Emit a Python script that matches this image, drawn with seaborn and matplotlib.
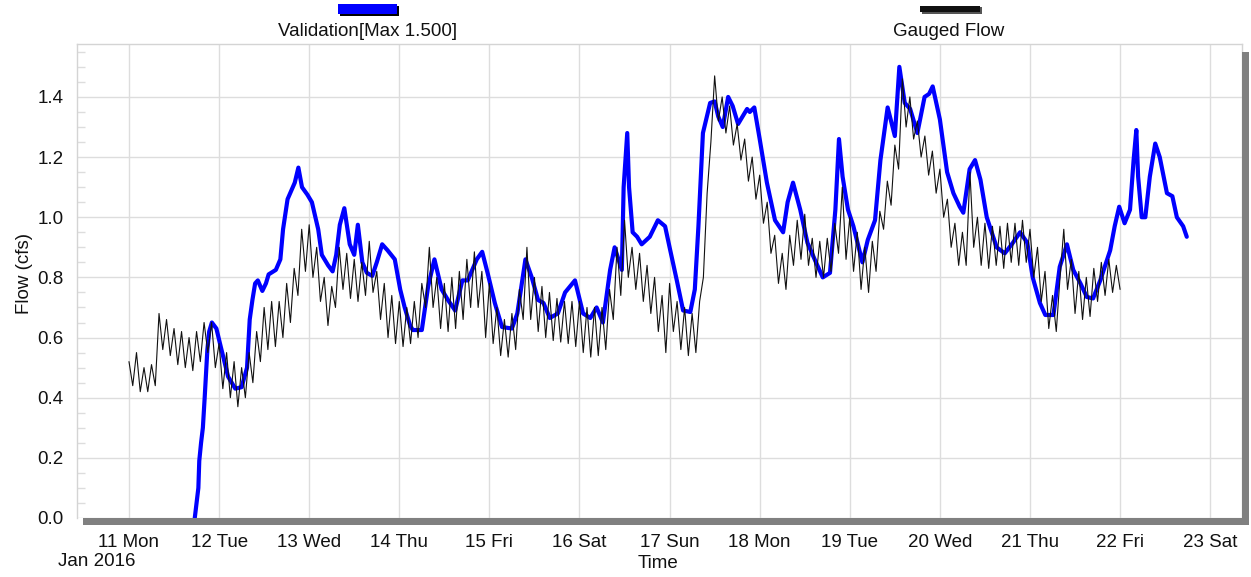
import numpy as np
import pandas as pd
import matplotlib
matplotlib.use("Agg")
import matplotlib.pyplot as plt
import matplotlib.dates as mdates
from matplotlib.patches import Rectangle
from matplotlib.ticker import MultipleLocator, FormatStrFormatter
import seaborn as sns

# Simulated (validation) flow: time as decimal day of January 2016, flow in cfs
valid_day = [
    11.73, 11.77, 11.78, 11.80, 11.82, 11.84, 11.87, 11.89, 11.92, 11.97,
    12.01, 12.10, 12.18, 12.25, 12.31, 12.34, 12.37, 12.40, 12.43, 12.48,
    12.52, 12.55, 12.63, 12.68, 12.71, 12.76, 12.84, 12.88, 12.92, 12.98,
    13.03, 13.10, 13.14, 13.21, 13.26, 13.30, 13.34, 13.39, 13.45, 13.50,
    13.54, 13.59, 13.64, 13.70, 13.75, 13.81, 13.87, 13.95, 14.01, 14.06,
    14.12, 14.15, 14.25, 14.32, 14.39, 14.47, 14.54, 14.62, 14.70, 14.76,
    14.86, 14.92, 14.98, 15.06, 15.14, 15.25, 15.31, 15.40, 15.47, 15.54,
    15.60, 15.67, 15.76, 15.84, 15.95, 16.04, 16.12, 16.19, 16.26, 16.34,
    16.39, 16.47, 16.49, 16.53, 16.55, 16.59, 16.64, 16.69, 16.78, 16.87,
    16.95, 17.00, 17.08, 17.15, 17.23, 17.28, 17.32, 17.37, 17.45, 17.50,
    17.54, 17.59, 17.65, 17.70, 17.76, 17.86, 17.89, 17.94, 18.00, 18.08,
    18.17, 18.26, 18.31, 18.37, 18.45, 18.53, 18.61, 18.70, 18.78, 18.84,
    18.88, 18.92, 18.98, 19.04, 19.14, 19.20, 19.28, 19.34, 19.42, 19.50,
    19.55, 19.61, 19.67, 19.75, 19.83, 19.88, 19.92, 20.00, 20.08, 20.15,
    20.22, 20.26, 20.33, 20.39, 20.45, 20.52, 20.63, 20.72, 20.81, 20.89,
    20.97, 21.03, 21.11, 21.17, 21.26, 21.33, 21.41, 21.48, 21.56, 21.63,
    21.70, 21.78, 21.89, 21.94, 21.99, 22.05, 22.11, 22.15, 22.18, 22.20,
    22.24, 22.28, 22.33, 22.39, 22.44, 22.52, 22.58, 22.63, 22.70, 22.74,
]
valid_flow = [
    0.00, 0.10, 0.19, 0.25, 0.30, 0.40, 0.56, 0.62, 0.65, 0.63,
    0.58, 0.47, 0.43, 0.435, 0.50, 0.66, 0.725, 0.78, 0.79, 0.755,
    0.78, 0.81, 0.825, 0.86, 0.96, 1.06, 1.115, 1.165, 1.10, 1.075,
    1.05, 0.96, 0.875, 0.84, 0.82, 0.875, 0.975, 1.03, 0.91, 0.875,
    0.975, 0.85, 0.815, 0.805, 0.85, 0.91, 0.89, 0.86, 0.76, 0.70,
    0.64, 0.625, 0.625, 0.77, 0.86, 0.76, 0.725, 0.69, 0.79, 0.79,
    0.86, 0.885, 0.815, 0.715, 0.635, 0.63, 0.68, 0.86, 0.80, 0.725,
    0.715, 0.665, 0.68, 0.75, 0.79, 0.68, 0.665, 0.70, 0.65, 0.825,
    0.90, 0.825, 1.10, 1.28, 1.10, 0.95, 0.935, 0.91, 0.935, 0.99,
    0.97, 0.90, 0.79, 0.69, 0.685, 0.76, 0.97, 1.28, 1.38, 1.385,
    1.335, 1.30, 1.40, 1.37, 1.31, 1.36, 1.35, 1.365, 1.26, 1.115,
    0.99, 0.95, 1.05, 1.115, 1.025, 0.915, 0.86, 0.80, 0.815, 1.025,
    1.26, 1.135, 1.025, 0.97, 0.85, 0.925, 0.99, 1.19, 1.365, 1.27,
    1.50, 1.38, 1.36, 1.28, 1.40, 1.41, 1.435, 1.325, 1.15, 1.08,
    1.035, 1.015, 1.16, 1.19, 1.125, 1.00, 0.90, 0.88, 0.915, 0.95,
    0.915, 0.80, 0.715, 0.675, 0.675, 0.835, 0.91, 0.825, 0.78, 0.735,
    0.73, 0.79, 0.89, 0.97, 1.035, 0.98, 1.025, 1.19, 1.29, 1.135,
    1.00, 1.00, 1.135, 1.245, 1.20, 1.08, 1.07, 1.00, 0.97, 0.935,
]

# Gauged flow: hourly readings, 11 Jan 00:00 to 22 Jan 00:00
gauged_start = "2016-01-11 00:00"
gauged_step = "60min"
gauged_flow = [
    # 11 Jan
    0.52, 0.44, 0.55, 0.42, 0.50, 0.42, 0.51, 0.44, 0.68, 0.56, 0.66, 0.54,
    0.63, 0.51, 0.62, 0.50, 0.60, 0.49, 0.62, 0.52, 0.65, 0.55, 0.65, 0.50,
    # 12 Jan
    0.58, 0.43, 0.55, 0.40, 0.52, 0.37, 0.50, 0.40, 0.55, 0.45, 0.62, 0.52,
    0.70, 0.56, 0.72, 0.57, 0.72, 0.60, 0.78, 0.65, 0.83, 0.74, 0.96, 0.82,
    # 13 Jan
    0.975, 0.80, 0.90, 0.72, 0.80, 0.64, 0.77, 0.70, 0.90, 0.76, 0.88, 0.73,
    0.86, 0.72, 0.85, 0.74, 0.92, 0.75, 0.82, 0.66, 0.78, 0.60, 0.74, 0.58,
    # 14 Jan
    0.72, 0.57, 0.70, 0.58, 0.72, 0.60, 0.78, 0.70, 0.90, 0.70, 0.80, 0.63,
    0.78, 0.62, 0.80, 0.63, 0.82, 0.66, 0.86, 0.70, 0.885, 0.70, 0.82, 0.60,
    # 15 Jan
    0.78, 0.58, 0.70, 0.54, 0.66, 0.535, 0.68, 0.56, 0.76, 0.66, 0.90, 0.66,
    0.80, 0.62, 0.77, 0.60, 0.75, 0.59, 0.73, 0.585, 0.72, 0.58, 0.72, 0.57,
    # 16 Jan
    0.72, 0.55, 0.70, 0.535, 0.70, 0.54, 0.70, 0.56, 0.76, 0.66, 0.90, 0.74,
    0.99, 0.80, 0.90, 0.76, 0.88, 0.72, 0.84, 0.68, 0.80, 0.62, 0.74, 0.55,
    # 17 Jan
    0.78, 0.62, 0.72, 0.56, 0.70, 0.54, 0.68, 0.55, 0.72, 0.80, 1.08, 1.25,
    1.47, 1.32, 1.40, 1.28, 1.37, 1.24, 1.31, 1.19, 1.26, 1.12, 1.20, 1.06,
    # 18 Jan
    1.14, 0.98, 1.05, 0.88, 0.94, 0.78, 0.88, 0.76, 0.94, 0.84, 0.99, 0.86,
    1.01, 0.84, 0.93, 0.80, 0.92, 0.80, 0.93, 0.82, 0.98, 0.88, 1.10, 0.86,
    # 19 Jan
    1.00, 0.82, 0.95, 0.76, 0.90, 0.75, 0.92, 0.82, 1.02, 0.96, 1.12, 1.04,
    1.24, 1.16, 1.46, 1.30, 1.40, 1.26, 1.32, 1.20, 1.27, 1.14, 1.22, 1.08,
    # 20 Jan
    1.16, 1.00, 1.06, 0.90, 0.98, 0.84, 0.95, 0.84, 1.15, 0.90, 1.00, 0.84,
    0.98, 0.83, 0.97, 0.84, 0.97, 0.83, 0.98, 0.85, 0.98, 0.84, 0.99, 0.85,
    # 21 Jan
    0.96, 0.80, 0.90, 0.72, 0.82, 0.63, 0.74, 0.62, 0.80, 0.96, 0.76, 0.86,
    0.68, 0.82, 0.66, 0.80, 0.67, 0.83, 0.72, 0.85, 0.74, 0.86, 0.75, 0.84,
    # 22 Jan
    0.76,
]

series_labels = ["Validation[Max 1.500]", "Gauged Flow"]
series_colors = ["#0000ff", "#111111"]
x_title = "Time"
y_title = "Flow (cfs)"
year_label = "Jan 2016"

# ---------------------------------------------------------------------------
sns.set_theme(style="white")
plt.rcParams["font.family"] = ["Liberation Sans", "DejaVu Sans"]
FS = 13.5
TXT = "#111111"

month_origin = pd.Timestamp("2016-01-01")
valid_time = month_origin + pd.to_timedelta(np.array(valid_day) - 1.0, unit="D")
gauged_time = pd.date_range(gauged_start, periods=len(gauged_flow), freq=gauged_step)

W, H = 1251, 577
fig = plt.figure(figsize=(W / 100, H / 100), dpi=100)
ax_l, ax_r, ax_t, ax_b = 77, 1242, 44, 518
ax = fig.add_axes([ax_l / W, 1 - ax_b / H, (ax_r - ax_l) / W, (ax_b - ax_t) / H])
pw, ph = ax_r - ax_l, ax_b - ax_t

sns.lineplot(x=valid_time, y=valid_flow, ax=ax, color=series_colors[0],
             linewidth=3.0, estimator=None, zorder=3,
             solid_joinstyle="round", solid_capstyle="round")
sns.lineplot(x=gauged_time, y=gauged_flow, ax=ax, color=series_colors[1],
             linewidth=0.8, estimator=None, zorder=4)

ax.set_xlim(month_origin + pd.Timedelta(days=9.423), month_origin + pd.Timedelta(days=22.353))
ax.set_ylim(0, 1.576)

grid_c = "#dddddd"
ax.grid(True, which="major", color=grid_c, linewidth=1.0)
ax.set_axisbelow(True)

ax.xaxis.set_major_locator(mdates.DayLocator())
ax.xaxis.set_major_formatter(mdates.DateFormatter("%d %a"))
ax.yaxis.set_major_locator(MultipleLocator(0.2))
ax.yaxis.set_minor_locator(MultipleLocator(0.05))
ax.yaxis.set_major_formatter(FormatStrFormatter("%.1f"))

ax.tick_params(axis="x", which="major", direction="out", length=7.5, width=1,
               color=grid_c, labelsize=FS, pad=4, labelcolor=TXT)
ax.tick_params(axis="y", which="major", direction="out", length=7, width=1,
               color=grid_c, labelsize=FS, pad=2.5, labelcolor=TXT)
ax.tick_params(axis="y", which="minor", direction="in", length=6, width=1,
               color=grid_c, left=True)

for side in ("top", "left", "right"):
    ax.spines[side].set_color("#d4d4d4")
    ax.spines[side].set_linewidth(1.0)
ax.spines["bottom"].set_visible(False)

ax.set_xlabel(x_title, fontsize=FS, color=TXT)
ax.set_ylabel(y_title, fontsize=FS, color=TXT)
ax.xaxis.set_label_coords((658 - ax_l) / pw, (ax_b - 555) / ph)
ax.yaxis.set_label_coords((33 - ax_l) / pw, (ax_b - 273) / ph)

# drop-shadow frame along the bottom and right edges
shadow = "#808080"
ax.add_patch(Rectangle(((83 - ax_l) / pw, -7 / ph), (1248 - 83) / pw, 7 / ph,
                       transform=ax.transAxes, facecolor=shadow, edgecolor="none",
                       clip_on=False, zorder=5))
ax.add_patch(Rectangle((1.0, -7 / ph), 6.5 / pw, (ax_b + 7 - 52) / ph,
                       transform=ax.transAxes, facecolor=shadow, edgecolor="none",
                       clip_on=False, zorder=5))

fig.text(97 / W, 1 - 561 / H, year_label, ha="center", va="center",
         fontsize=FS, color=TXT)

# legend swatches above the plot, each with its label underneath
def swatch(x0, x1, y0, y1, color, shade):
    fig.add_artist(Rectangle((x0 / W + 1.5 / W, 1 - (y1 + 1.5) / H), (x1 - x0) / W, (y1 - y0) / H,
                             transform=fig.transFigure, facecolor=shade, edgecolor="none"))
    fig.add_artist(Rectangle((x0 / W, 1 - y1 / H), (x1 - x0) / W, (y1 - y0) / H,
                             transform=fig.transFigure, facecolor=color, edgecolor="none"))

swatch(338, 397, 4, 14, series_colors[0], "#000000")
swatch(920, 980, 6, 12, series_colors[1], "#555555")
fig.text(367.5 / W, 1 - 31 / H, series_labels[0], ha="center", va="center",
         fontsize=FS, color=TXT)
fig.text(949 / W, 1 - 31 / H, series_labels[1], ha="center", va="center",
         fontsize=FS, color=TXT)

fig.savefig("out.png", dpi=100)
